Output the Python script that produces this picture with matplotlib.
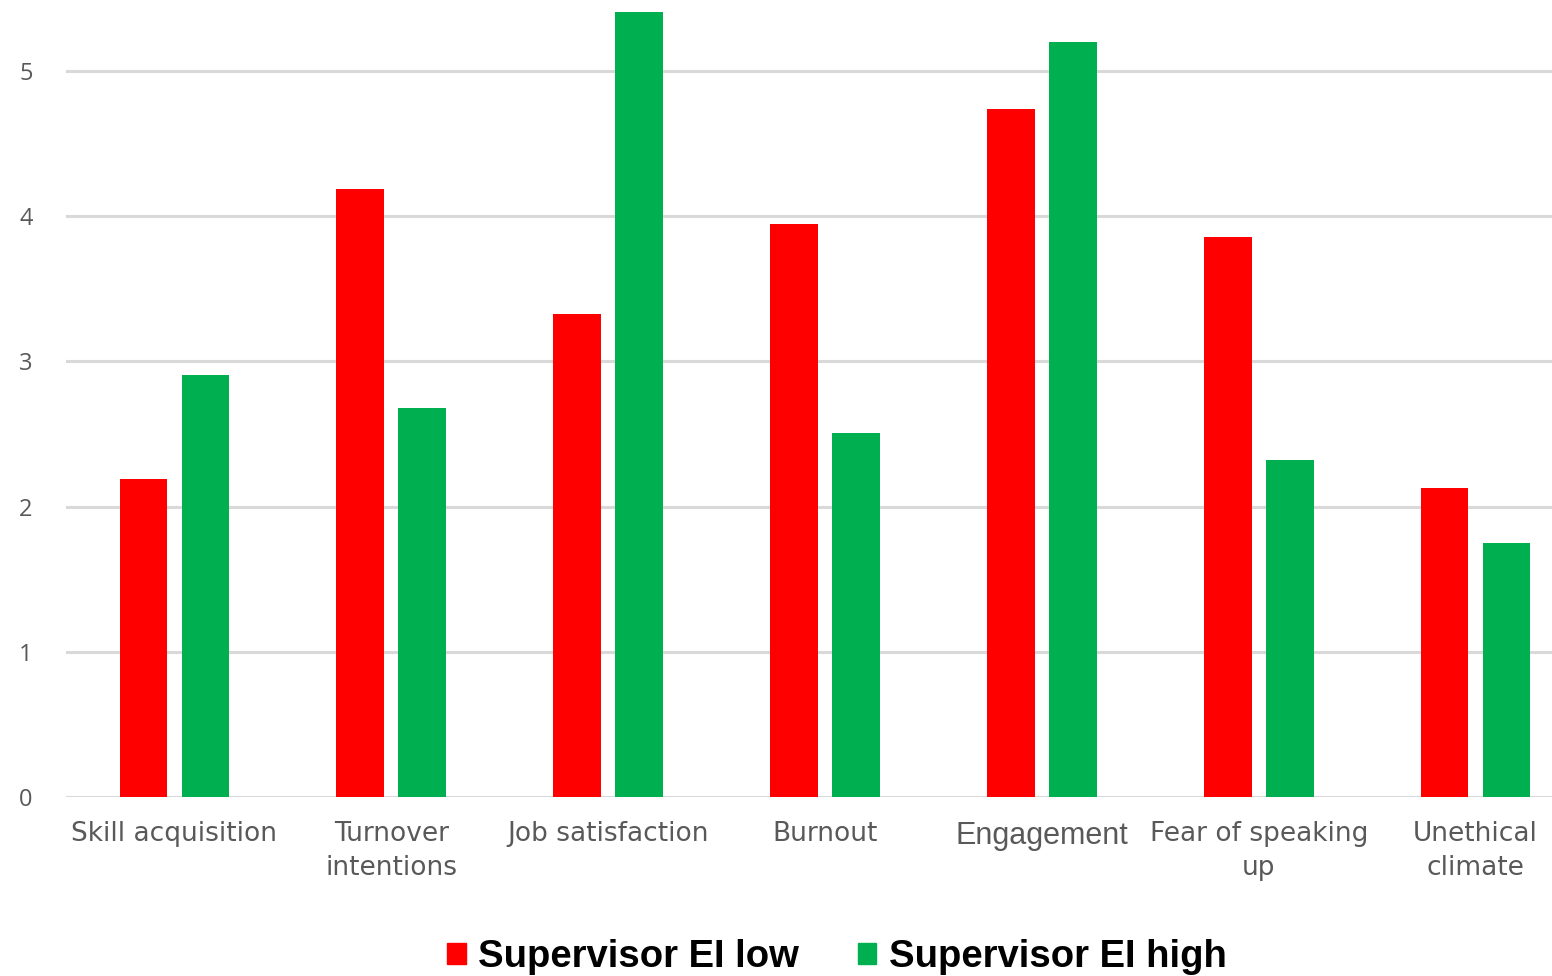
import numpy as np
import matplotlib
matplotlib.use("Agg")
import matplotlib.pyplot as plt
from matplotlib.patches import Patch

# mean scores by outcome, split by supervisor EI
categories = ["Skill acquisition", "Turnover\nintentions", "Job satisfaction",
              "Burnout", "Engagement", "Fear of speaking\nup", "Unethical\nclimate"]
ei_low = [2.19, 4.19, 3.33, 3.95, 4.74, 3.86, 2.13]
ei_high = [2.91, 2.68, 5.41, 2.51, 5.20, 2.32, 1.75]
series_names = ["Supervisor EI low", "Supervisor EI high"]
yticks = [0, 1, 2, 3, 4, 5]

red = "#ff0000"
green = "#00b050"
grey_text = "#595959"

fig = plt.figure(figsize=(15.52, 9.76), dpi=100)
# plot area runs a little past the right edge of the figure
ax = fig.add_axes([66 / 1552, 1 - 797 / 976, 1518 / 1552, 797 / 976])

x = np.arange(len(categories))
w = 0.22
off = 0.143
ax.bar(x - off, ei_low, width=w, color=red, zorder=3)
ax.bar(x + off, ei_high, width=w, color=green, zorder=3)

ax.set_xlim(-0.5, len(categories) - 0.5)
ax.set_ylim(0, 5.49)
ax.set_yticks(yticks)
ax.yaxis.grid(True, color="#d9d9d9", linewidth=2.2, zorder=0)
ax.set_axisbelow(True)
for s in ax.spines.values():
    s.set_visible(False)

ax.tick_params(axis="y", length=0, pad=24, labelsize=17, labelcolor=grey_text)
ax.tick_params(axis="x", length=0, pad=17, labelsize=19, labelcolor=grey_text)
ax.set_xticks(x)
ax.set_xticklabels(categories, family="DejaVu Sans", linespacing=1.42)
for lab in ax.get_yticklabels():
    lab.set_family("Open Sans")

# "Engagement" is set in a different face
eng = ax.get_xticklabels()[4]
eng.set_family("Liberation Sans")
eng.set_fontsize(22)

handles = [Patch(color=red), Patch(color=green)]
fig.legend(handles, series_names, loc="center", bbox_to_anchor=(837 / 1552, 1 - 957 / 976),
           ncol=2, frameon=False, handlelength=0.48, handleheight=0.48,
           handletextpad=0.32, columnspacing=1.55,
           prop={"family": "Liberation Sans", "weight": "bold", "size": 27.5})

fig.savefig("out.png", dpi=100)
